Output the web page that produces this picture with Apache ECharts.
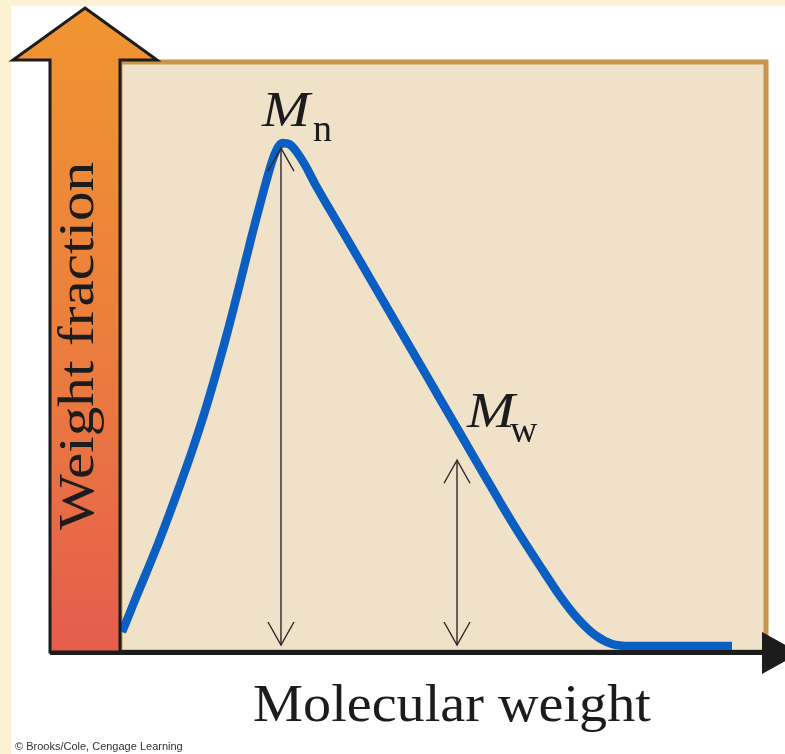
<!DOCTYPE html>
<html><head><meta charset="utf-8">
<script src="https://cdn.jsdelivr.net/npm/echarts@6/dist/echarts.min.js"></script>
<style>html,body{margin:0;padding:0;background:#fff}#c{width:785px;height:754px}</style>
</head><body><div id="c"></div><script>
// ---- data (arbitrary units: x 0..100 molecular weight, y 0..100 weight fraction)
const curveX = [0.31, 1.39, 2.63, 4.18, 5.88, 7.59, 9.29, 11.15, 13.16, 15.02, 16.72, 18.58, 20.43, 21.98, 23.22, 24.15, 25.08, 26.16, 27.24, 28.64, 30.19, 32.51, 35.60, 39.47, 43.34, 47.21, 51.08, 54.95, 58.82, 61.92, 65.02, 68.11, 70.90, 73.53, 76.16, 78.95, 94.74];
const curveY = [2.37, 5.25, 8.64, 12.71, 17.29, 22.20, 27.29, 33.05, 39.83, 46.78, 53.56, 61.53, 69.66, 76.10, 81.02, 83.90, 85.25, 85.08, 83.90, 81.53, 78.31, 73.90, 68.14, 60.85, 53.56, 46.27, 38.98, 31.69, 24.41, 18.81, 13.56, 8.47, 4.58, 1.86, 0.34, 0.0, 0.0].map(v => v + 1.02);
const markerSub = ['n', 'w'];
const markerX = [24.92, 52.17];
const markerTop = [85.4, 32.5];
const markerBase = 1.19;
const xTitle = 'Molecular weight';
const yTitle = 'Weight fraction';
const credit = '\u00A9 Brooks/Cole, Cengage Learning';

// ---- styling
const serif = '"Liberation Serif", "DejaVu Serif", serif';
const labelOffsets = [
  {mx: -19, my: -35, sx: 32, sy: -17},
  {mx: 10, my: -46, sx: 53, sy: -28}
];
const ink = '#1c1c1c';

const chart = echarts.init(document.getElementById('c'), null, {renderer: 'canvas'});

const curveData = curveX.map((x, i) => [x, curveY[i]]);
const markerData = markerX.map((x, i) => [x, markerTop[i], markerSub[i]]);

chart.setOption({
  backgroundColor: '#FDF1D4',
  animation: false,
  grid: {
    left: 120, top: 62, right: 19, bottom: 102,
    show: true, backgroundColor: '#EFE2C8', borderColor: '#C8954B', borderWidth: 5
  },
  xAxis: {type: 'value', min: 0, max: 100, show: false},
  yAxis: {type: 'value', min: 0, max: 100, show: false},
  graphic: [
    {type: 'rect', z: -10, shape: {x: 11, y: 6, width: 800, height: 800}, style: {fill: '#ffffff'}},
    // horizontal axis line with arrowhead
    {type: 'rect', z: 50, shape: {x: 50, y: 650, width: 715, height: 5}, style: {fill: ink}},
    {type: 'polygon', z: 50, shape: {points: [[762, 632], [800, 653], [762, 674]]}, style: {fill: ink}},
    // vertical big arrow
    {type: 'polygon', z: 50,
      shape: {points: [[85, 8], [157, 60], [120, 60], [120, 652], [50, 652], [50, 60], [13, 60]]},
      style: {
        fill: new echarts.graphic.LinearGradient(0, 0, 0, 1, [
          {offset: 0, color: '#F09530'}, {offset: 0.5, color: '#EC7F3C'}, {offset: 1, color: '#E55C4D'}
        ]),
        stroke: ink, lineWidth: 3, lineJoin: 'miter'
      }
    },
    {type: 'text', z: 60, x: 80, y: 346, rotation: Math.PI / 2, scaleX: 1.16,
      style: {text: yTitle, font: '51px ' + serif, fill: ink, align: 'center', verticalAlign: 'middle'}},
    {type: 'text', z: 60, x: 452, y: 707, scaleX: 1.06,
      style: {text: xTitle, font: '53px ' + serif, fill: ink, align: 'center', verticalAlign: 'middle'}},
    {type: 'text', z: 60, x: 15, y: 747,
      style: {text: credit, font: '11px "Liberation Sans", Arial, sans-serif', fill: '#333', align: 'left', verticalAlign: 'middle'}}
  ],
  series: [
    {
      type: 'line', data: curveData, smooth: 0.25, symbol: 'none', z: 5,
      lineStyle: {color: '#0B5FC2', width: 8.5, cap: 'butt'}
    },
    {
      type: 'custom', z: 6, data: markerData,
      renderItem: function (params, api) {
        const x = api.value(0), top = api.value(1);
        const pT = api.coord([x, top]);
        const pB = api.coord([x, markerBase]);
        const o = labelOffsets[params.dataIndex];
        const sub = markerSub[params.dataIndex];
        const ah = 23, aw = 13;
        const st = {stroke: '#2a2a2a', lineWidth: 1.4, fill: 'none'};
        return {type: 'group', children: [
          {type: 'line', shape: {x1: pT[0], y1: pT[1], x2: pB[0], y2: pB[1]}, style: st},
          {type: 'polyline', shape: {points: [[pT[0] - aw, pT[1] + ah], [pT[0], pT[1]], [pT[0] + aw, pT[1] + ah]]}, style: st},
          {type: 'polyline', shape: {points: [[pB[0] - aw, pB[1] - ah], [pB[0], pB[1]], [pB[0] + aw, pB[1] - ah]]}, style: st},
          {type: 'text', x: pT[0] + o.mx, y: pT[1] + o.my, scaleX: 1.15,
            style: {text: 'M', font: 'italic 50px ' + serif, fill: ink, align: 'left', verticalAlign: 'middle'}},
          {type: 'text', x: pT[0] + o.sx, y: pT[1] + o.sy,
            style: {text: sub, font: '38px ' + serif, fill: ink, align: 'left', verticalAlign: 'middle'}}
        ]};
      }
    }
  ]
});
</script></body></html>
